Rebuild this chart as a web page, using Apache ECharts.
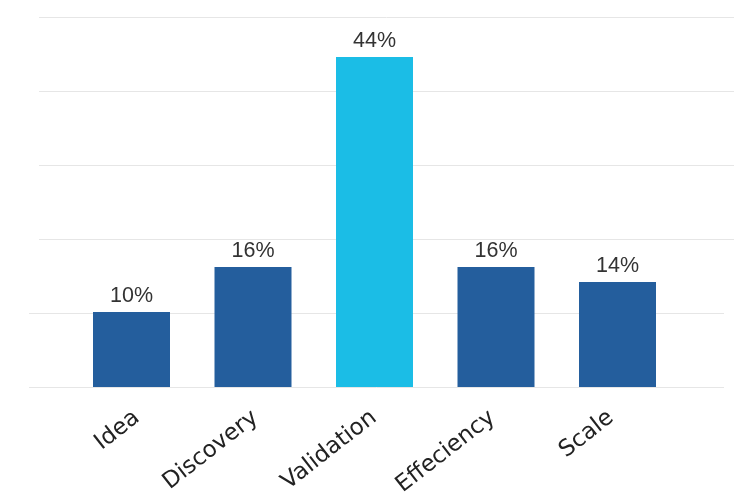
<!DOCTYPE html>
<html>
<head>
<meta charset="utf-8">
<script src="https://cdn.jsdelivr.net/npm/echarts@6/dist/echarts.min.js"></script>
<style>html,body{margin:0;padding:0;background:#fff;}#c{width:739px;height:499px;}</style>
</head>
<body>
<div id="c"></div>
<script>
const categories = ['Idea', 'Discovery', 'Validation', 'Effeciency', 'Scale'];
const values = [10, 16, 44, 16, 14];
const highlightIndex = 2;
const axisMax = 50;
const axisInterval = 10;

const darkBlue = '#245E9D';
const lightBlue = '#1BBDE6';
const gridColor = '#e6e6e6';
const none = 'rgba(0,0,0,0)';

const chart = echarts.init(document.getElementById('c'));
chart.setOption({
  animation: false,
  backgroundColor: '#fff',
  grid: [
    { left: 29, right: 15, top: 17, bottom: 112 },
    { left: 39, right: 5, top: 17, bottom: 112 },
    { left: 70.75, right: 60.75, top: 12, bottom: 112 },
    { left: 77.75, right: 68.75, top: 12, bottom: 112 }
  ],
  xAxis: [
    { gridIndex: 0, type: 'category', data: categories, show: false },
    { gridIndex: 1, type: 'category', data: categories, show: false },
    { gridIndex: 2, type: 'category', data: categories, show: false },
    { gridIndex: 3, type: 'category', data: categories,
      axisLine: { show: false }, axisTick: { show: false }, splitLine: { show: false },
      axisLabel: { rotate: 38, margin: 35, interval: 0, fontFamily: 'DejaVu Sans', fontSize: 23, color: '#222' } }
  ],
  yAxis: [
    { gridIndex: 0, type: 'value', min: 0, max: axisMax, interval: axisInterval,
      axisLine: { show: false }, axisTick: { show: false }, axisLabel: { show: false },
      splitLine: { show: true, lineStyle: { width: 1, color: [gridColor, gridColor, none, none, none, none] } } },
    { gridIndex: 1, type: 'value', min: 0, max: axisMax, interval: axisInterval,
      axisLine: { show: false }, axisTick: { show: false }, axisLabel: { show: false },
      splitLine: { show: true, lineStyle: { width: 1, color: [none, none, gridColor, gridColor, gridColor, gridColor] } } },
    { gridIndex: 2, type: 'value', min: 0, max: axisMax, show: false, splitLine: { show: false } },
    { gridIndex: 3, type: 'value', min: 0, max: axisMax, show: false, splitLine: { show: false } }
  ],
  series: [{
    type: 'bar',
    xAxisIndex: 2,
    yAxisIndex: 2,
    barWidth: 77,
    data: values.map((v, i) => ({ value: v, itemStyle: { color: i === highlightIndex ? lightBlue : darkBlue } })),
    label: {
      show: true, position: 'top', distance: 5,
      formatter: p => p.value + '%',
      fontFamily: 'Liberation Sans', fontSize: 21.5, color: '#333'
    }
  }]
});
</script>
</body>
</html>
